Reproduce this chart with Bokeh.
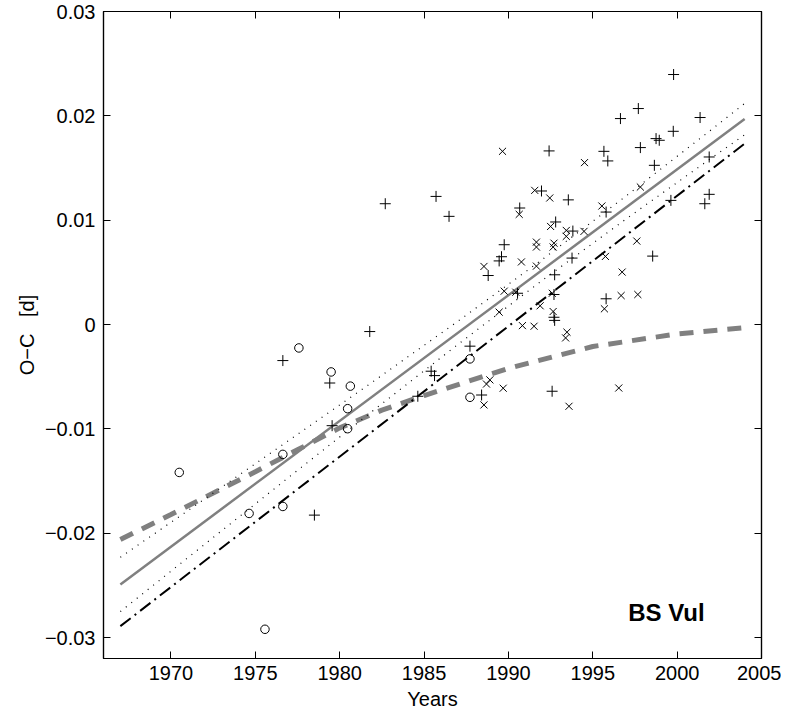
from bokeh.plotting import figure
from bokeh.models import Range1d, FixedTicker, LinearAxis, Label
from bokeh.embed import file_html
from bokeh.resources import INLINE

# ---- data ----
circle_years = [1970.49, 1974.63, 1975.57, 1976.63, 1976.63, 1977.58, 1979.49,
                1980.47, 1980.47, 1980.63, 1987.72, 1987.72]
circle_vals = [-0.01417, -0.0181, -0.0292, -0.01244, -0.01743, -0.00224, -0.00454,
               -0.00806, -0.00998, -0.0059, -0.00329, -0.00697]

plus_years = [1976.63, 1978.50, 1979.41, 1979.55, 1981.78, 1982.70, 1984.63, 1985.42,
              1985.62, 1985.71, 1986.48, 1987.72, 1988.41, 1988.80, 1989.45, 1989.59,
              1989.75, 1990.54, 1990.67, 1991.96, 1992.41, 1992.59, 1992.70, 1992.70,
              1992.74, 1992.74, 1992.80, 1993.55, 1993.77, 1993.82, 1995.66, 1995.79,
              1995.79, 1995.89, 1996.64, 1997.70, 1997.82, 1998.55, 1998.65, 1998.75,
              1998.94, 1999.63, 1999.77, 1999.79, 2001.36, 2001.64, 2001.90, 2001.90]
plus_vals = [-0.00345, -0.01826, -0.0056, -0.00969, -0.00067, 0.01158, -0.00687, -0.00447,
             -0.00489, 0.01228, 0.01037, -0.00207, -0.00675, 0.0047, 0.0061, 0.0065,
             0.00765, 0.0030, 0.01117, 0.0128, 0.01664, -0.00639, 0.00288, 0.0007,
             0.0004, 0.00477, 0.00983, 0.01195, 0.00637, 0.00896, 0.0166, 0.00247,
             0.01078, 0.01568, 0.01974, 0.0207, 0.01696, 0.00656, 0.01526, 0.01782,
             0.01766, 0.0119, 0.01852, 0.02396, 0.01984, 0.01158, 0.01248, 0.01606]

x_years = [1988.55, 1988.55, 1988.70, 1988.90, 1989.45, 1989.65, 1989.69, 1989.75,
           1990.44, 1990.64, 1990.77, 1990.83, 1991.52, 1991.56, 1991.66, 1991.66,
           1991.66, 1991.88, 1992.45, 1992.50, 1992.60, 1992.65, 1992.65, 1992.70,
           1993.39, 1993.43, 1993.43, 1993.47, 1993.59, 1994.48, 1994.51, 1995.54,
           1995.69, 1995.75, 1996.54, 1996.68, 1996.74, 1997.61, 1997.67, 1997.82]
x_vals = [-0.0077, 0.00557, -0.0057, -0.0053, 0.00119, 0.0166, -0.0061, 0.0032,
          0.0031, 0.01056, 0.0060, -0.0001, -0.00016, 0.01286, 0.0079, 0.00743,
          0.0056, 0.0018, 0.01213, 0.0094, 0.0030, 0.00125, 0.00743, 0.0078,
          -0.00128, 0.00902, 0.00845, -0.00073, -0.00783, 0.00893, 0.01552, 0.01136,
          0.00151, 0.00653, -0.00608, 0.00278, 0.00503, 0.008, 0.00288, 0.01318]

fit_years = [1967, 2004]
fit_vals = [-0.0249, 0.01969]

band_years = [1967, 1972, 1977, 1982, 1987, 1992, 1997, 2002, 2004]
band_upper = [-0.02230, -0.01671, -0.01109, -0.00544, 0.00031, 0.00623, 0.01235, 0.01864, 0.02119]
band_lower = [-0.02750, -0.02105, -0.01461, -0.00822, -0.00191, 0.00423, 0.01015, 0.01592, 0.01819]

dashdot_years = [1967, 2004]
dashdot_vals = [-0.0289, 0.01734]

curve_years = [1967, 1970, 1975, 1977.5, 1980, 1982.5, 1985, 1990, 1995, 2000, 2004]
curve_vals = [-0.0206, -0.0182, -0.0141, -0.0120, -0.0099, -0.0082, -0.0068, -0.0042,
              -0.0021, -0.0009, -0.0003]

x_ticks = [1970, 1975, 1980, 1985, 1990, 1995, 2000, 2005]
y_ticks = [-0.03, -0.02, -0.01, 0.0, 0.01, 0.02, 0.03]
y_tick_labels = ["\u22120.03", "\u22120.02", "\u22120.01", "0", "0.01", "0.02", "0.03"]

FONT = "Liberation Sans"
GRAY = "#808080"

p = figure(frame_width=658, frame_height=647,
           x_range=Range1d(1966, 2005), y_range=Range1d(-0.032, 0.03),
           output_backend="svg", toolbar_location=None,
           min_border_left=103, min_border_right=20, min_border_top=11, min_border_bottom=50,
           background_fill_color="white", border_fill_color="white")
p.grid.visible = False
p.outline_line_color = "black"
p.outline_line_width = 1.2


def style_axis(ax, ticks, show_labels, overrides=None):
    ax.ticker = FixedTicker(ticks=ticks)
    ax.minor_tick_line_color = None
    ax.major_tick_in = 7
    ax.major_tick_out = 0
    ax.axis_line_color = "black"
    ax.axis_line_width = 1.2
    ax.major_tick_line_color = "black"
    ax.major_label_text_font = FONT
    ax.major_label_text_font_size = "20px"
    ax.major_label_text_color = "black" if show_labels else None
    ax.axis_label_text_font = FONT
    ax.axis_label_text_font_size = "20px"
    ax.axis_label_text_font_style = "normal"
    ax.axis_label_text_color = "black"
    if overrides:
        ax.major_label_overrides = overrides


xa = p.xaxis[0]
style_axis(xa, x_ticks, True)
xa.axis_label = "Years"
xa.major_label_standoff = 7
xa.axis_label_standoff = 5

ya = p.yaxis[0]
style_axis(ya, y_ticks, True, dict(zip(y_ticks, y_tick_labels)))
ya.axis_label = "O\u2212C\u00a0\u00a0\u00a0[d]"
ya.major_label_standoff = 8
ya.axis_label_standoff = 4

top = LinearAxis()
style_axis(top, x_ticks, False)
top.major_label_standoff = 0
p.add_layout(top, "above")

right = LinearAxis()
style_axis(right, y_ticks, False)
right.major_label_standoff = 0
p.add_layout(right, "right")

# lines
p.line(curve_years, curve_vals, line_color=GRAY, line_width=5, line_dash="14 10")
p.line(band_years, band_upper, line_color="black", line_width=1.2, line_dash="1 6")
p.line(band_years, band_lower, line_color="black", line_width=1.2, line_dash="1 6")
p.line(dashdot_years, dashdot_vals, line_color="black", line_width=2, line_dash="13 5 2 5")
p.line(fit_years, fit_vals, line_color=GRAY, line_width=2.5)

# markers
p.scatter(circle_years, circle_vals, marker="circle", size=8.5, fill_color=None,
          line_color="black", line_width=1)
p.scatter(plus_years, plus_vals, marker="cross", size=11, line_color="black", line_width=1)
p.scatter(x_years, x_vals, marker="x", size=10, line_color="black", line_width=1)

p.add_layout(Label(x=1997.1, y=-0.0276, text="BS Vul", text_font=FONT,
                   text_font_size="24px", text_font_style="bold", text_color="black",
                   text_baseline="alphabetic"))

open("out.html", "w").write(file_html(p, INLINE))
